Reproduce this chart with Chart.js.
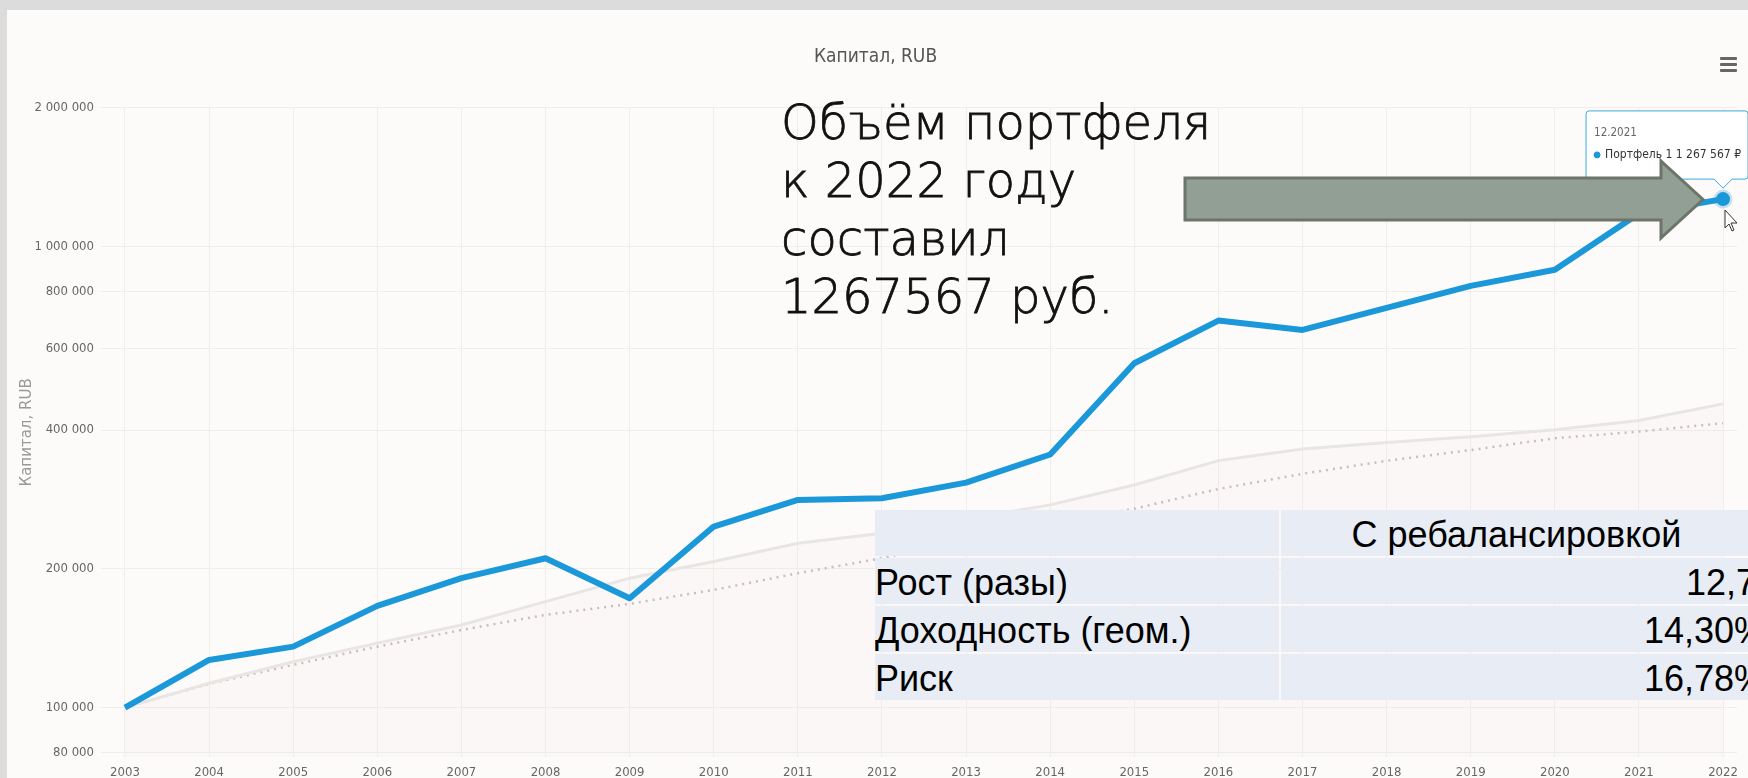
<!DOCTYPE html>
<html>
<head>
<meta charset="utf-8">
<script src="https://cdn.jsdelivr.net/npm/chart.js@4.4.1/dist/chart.umd.min.js"></script>
<style>
  html, body { margin: 0; padding: 0; width: 1748px; height: 778px; overflow: hidden; background: #dcdcdc; }
  #panel { position: absolute; left: 7px; top: 10px; right: 0; bottom: 0; background: #fdfbfa; }
  #chart { position: absolute; left: 0; top: 0; }
  .note { position: absolute; left: 781px; top: 93px; font-family: "DejaVu Sans", sans-serif; font-weight: 200;
          font-size: 48px; line-height: 58px; color: #111; white-space: nowrap;
          -webkit-text-stroke: 0.8px #111; }
  .cell { position: absolute; height: 46px; box-sizing: border-box; padding-top: 4px; line-height: 41px;
          background: #e8ecf4; font-family: "Liberation Sans", Arial, sans-serif; font-size: 36px; color: #000;
          white-space: pre; overflow: hidden; }
  .menu { position: absolute; left: 1720px; width: 17px; height: 3px; background: #666; border-radius: 1px; }
  svg { position: absolute; left: 0; top: 0; }
</style>
</head>
<body>
<div id="panel"></div>
<canvas id="chart" width="1748" height="778"></canvas>
<div class="note">Объём портфеля<br>к 2022 году<br>составил<br>1267567 руб.</div>
<div id="stats"></div>
<div class="menu" style="top:57px"></div>
<div class="menu" style="top:63px"></div>
<div class="menu" style="top:69px"></div>
<svg width="1748" height="778">
  <polygon points="1185,178 1661,178 1661,161 1703,199.5 1661,238 1661,220 1185,220"
           fill="#929f94" stroke="#6c7569" stroke-width="3" stroke-linejoin="miter"/>
  <path d="M1725 210 L1725 228 L1729 224 L1732 231 L1734 230 L1731 223 L1737 223 Z"
        fill="#fff" stroke="#333" stroke-width="1"/>
</svg>
<script>
const years = [2003, 2004, 2005, 2006, 2007, 2008, 2009, 2010, 2011, 2012,
               2013, 2014, 2015, 2016, 2017, 2018, 2019, 2020, 2021, 2022];
const portfolio = [100000, 126900, 135600, 166200, 190900, 210900, 172700, 247000, 282200, 284600,
                   307600, 354000, 558500, 691000, 659600, 736000, 822000, 890500, 1180000, 1267567];
const benchmark = [100000, 112950, 125800, 138000, 151100, 169800, 190900, 207400, 227300, 239000,
                   256500, 275300, 304000, 343400, 364000, 376000, 387000, 400400, 419400, 455900];
const inflation = [100000, 112600, 123800, 135600, 147400, 158900, 167900, 180000, 195700, 210900,
                   231100, 250300, 270000, 298000, 321500, 343000, 362000, 384000, 396900, 414000];
const yTicks = [80000, 100000, 200000, 400000, 600000, 800000, 1000000, 2000000];

const statHeader = ["", "С ребалансировкой"];
const statNames = ["Рост (разы)", "Доходность (геом.)", "Риск"];
const statValues = ["12,7\u00a0", "14,30%", "16,78%"];

const narrow = '"Liberation Sans Narrow", "Arial Narrow", "DejaVu Sans Condensed", sans-serif';
const blue = "#1b98d9";

const fmt = (v) => String(Math.round(v)).replace(/\B(?=(\d{3})+(?!\d))/g, " ");

// table of stats
const stats = document.getElementById("stats");
const addCell = (text, left, top, width, align, pad) => {
  const d = document.createElement("div");
  d.className = "cell";
  d.style.left = left + "px";
  d.style.top = top + "px";
  d.style.width = width + "px";
  d.style.textAlign = align;
  if (pad) d.style.paddingRight = pad + "px";
  d.textContent = text;
  stats.appendChild(d);
};
addCell(statHeader[0], 875, 510, 404, "left");
addCell(statHeader[1], 1281, 510, 485, "center", 14);
statNames.forEach((name, i) => {
  addCell(name, 875, 558 + i * 48, 404, "left");
  addCell(statValues[i], 1281, 558 + i * 48, 485, "right");
});

const toPoints = (arr) => arr.map((v, i) => ({ x: years[i], y: v }));

const chart = new Chart(document.getElementById("chart"), {
  type: "line",
  data: {
    datasets: [
      {
        label: "Портфель 1",
        data: toPoints(portfolio),
        borderColor: blue,
        borderWidth: 6,
        borderJoinStyle: "round",
        pointRadius: 0,
        pointHoverRadius: 7,
        pointHoverBackgroundColor: blue,
        pointHoverBorderColor: "rgba(27,152,217,0.25)",
        pointHoverBorderWidth: 5,
        tension: 0,
        fill: false,
      },
      {
        label: "Бенчмарк",
        data: toPoints(benchmark),
        borderColor: "#e9e5e3",
        borderWidth: 3,
        backgroundColor: "rgba(232,226,224,0.12)",
        fill: "start",
        pointRadius: 0,
        pointHoverRadius: 0,
        tension: 0,
      },
      {
        label: "Инфляция",
        data: toPoints(inflation),
        borderColor: "#c6b9b9",
        borderWidth: 2.5,
        borderDash: [2, 5],
        fill: false,
        pointRadius: 0,
        pointHoverRadius: 0,
        tension: 0,
      },
    ],
  },
  options: {
    responsive: false,
    animation: false,
    events: [],
    layout: { padding: { left: 14, right: 11, top: 0, bottom: 0 } },
    plugins: {
      legend: { display: false },
      title: {
        display: true,
        text: "Капитал, RUB",
        color: "#555",
        font: { family: narrow, size: 19, weight: "normal" },
        padding: { top: 46, bottom: 39 },
      },
      tooltip: {
        xAlign: "center",
        yAlign: "bottom",
        backgroundColor: "rgba(255,255,255,0.93)",
        borderColor: "#3fa9e2",
        borderWidth: 1,
        cornerRadius: 3,
        caretSize: 9,
        caretPadding: 11,
        padding: { top: 15, bottom: 17, left: 8, right: 7 },
        titleColor: "#666",
        titleFont: { family: narrow, size: 11.5, weight: "normal" },
        titleMarginBottom: 8,
        bodyColor: "#333",
        bodyFont: { family: narrow, size: 12 },
        usePointStyle: true,
        boxWidth: 6,
        boxHeight: 6,
        boxPadding: 3,
        filter: (item) => item.datasetIndex === 0,
        callbacks: {
          title: (items) => "12." + (items[0].raw.x - 1),
          label: (item) => item.dataset.label + " " + fmt(item.raw.y) + " ₽",
          labelColor: () => ({ borderColor: blue, backgroundColor: blue }),
          labelPointStyle: () => ({ pointStyle: "circle", rotation: 0 }),
        },
      },
    },
    scales: {
      x: {
        type: "linear",
        min: 2002.715,
        max: 2022.166,
        afterBuildTicks: (axis) => { axis.ticks = years.map((v) => ({ value: v })); },
        afterFit: (axis) => { axis.height = 21; },
        grid: { color: "#f1edeb", drawTicks: false },
        border: { display: false },
        ticks: {
          autoSkip: false,
          maxRotation: 0,
          padding: 8,
          color: "#666",
          font: { family: narrow, size: 13 },
          callback: (v) => String(v),
        },
      },
      y: {
        type: "logarithmic",
        min: 78150,
        max: 2000000,
        afterBuildTicks: (axis) => { axis.ticks = yTicks.map((v) => ({ value: v })); },
        afterFit: (axis) => { axis.width = 87; },
        grid: { color: "#f1edeb", drawTicks: false },
        border: { display: false },
        title: {
          display: true,
          text: "Капитал, RUB",
          color: "#999",
          font: { family: '"DejaVu Sans", sans-serif', size: 15 },
        },
        ticks: {
          padding: 7,
          color: "#666",
          font: { family: narrow, size: 13 },
          callback: (v) => fmt(v),
        },
      },
    },
  },
});

const lastIndex = years.length - 1;
const lastEl = chart.getDatasetMeta(0).data[lastIndex];
const active = [{ datasetIndex: 0, index: lastIndex }];
chart.setActiveElements(active);
chart.tooltip.setActiveElements(active, { x: lastEl.x, y: lastEl.y });
chart.update();
</script>
</body>
</html>
